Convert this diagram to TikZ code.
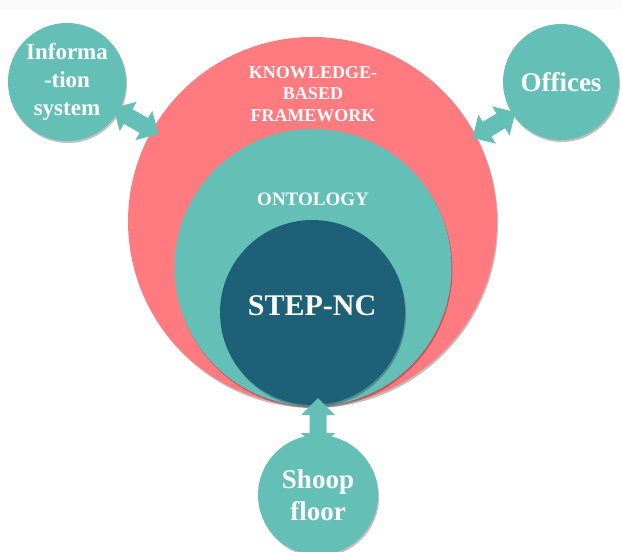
\documentclass[tikz,border=0pt]{standalone}
\usepackage{fontspec}
\setmainfont{Liberation Serif}
\usetikzlibrary{shadows}
\definecolor{kred}{HTML}{FF7B80}
\definecolor{kteal}{HTML}{64BFB7}
\definecolor{kblue}{HTML}{1F6079}
\tikzset{
  x=1pt, y=-1pt,
  shd/.style={drop shadow={shadow xshift=1pt, shadow yshift=-2pt, opacity=0.25, fill=black}},
  bigc/.style={circle, inner sep=0pt, shd},
  smallc/.style={circle, fill=kteal, minimum size=118pt, inner sep=0pt, shd, text=white, font=\bfseries\fontsize{25}{29}\selectfont, align=center},
  darrow/.style={fill=kteal}
}
\newcommand{\dblarrow}[3]{%
  \begin{scope}[shift={(#1)}, rotate=#2]
    \fill[darrow] (-#3,0) -- (-#3+17,-17) -- (-#3+17,-8.5) -- (#3-17,-8.5) -- (#3-17,-17) -- (#3,0) -- (#3-17,17) -- (#3-17,8.5) -- (-#3+17,8.5) -- (-#3+17,17) -- cycle;
  \end{scope}}
\begin{document}
\begin{tikzpicture}
\useasboundingbox (0,0) rectangle (622,552);
\fill[gray!4] (0,0) rectangle (622,9);
\node[bigc, fill=kred, minimum size=369pt] (kb) at (312.5,221.5) {};
\node[bigc, fill=kteal, minimum size=277pt] (onto) at (313,267.5) {};
\node[bigc, fill=kblue, minimum size=185pt] (step) at (312.5,312.5) {};
\node[text=white, font=\bfseries\fontsize{18}{21.5}\selectfont, align=center] (kbt) at (313,94) {KNOWLEDGE-\\BASED\\FRAMEWORK};
\node[text=white, font=\bfseries\fontsize{19}{22}\selectfont] (ontot) at (313,199) {ONTOLOGY};
\node[text=white, font=\bfseries\fontsize{30}{34}\selectfont] (stept) at (312,306) {STEP-NC};
\node[smallc, font=\bfseries\fontsize{23}{28}\selectfont] (info) at (67,82) {Informa\\-tion\\system};
\node[smallc, minimum size=116pt, font=\bfseries\fontsize{27}{30}\selectfont] (off) at (561,82) {Offices};
\node[smallc, minimum size=120pt, font=\bfseries\fontsize{27}{32}\selectfont] (shoop) at (318,495) {Shoop\\floor};
\dblarrow{136,121}{-30}{26}
\dblarrow{494,125}{31}{25}
\dblarrow{318,424}{90}{26}
\end{tikzpicture}
\end{document}
